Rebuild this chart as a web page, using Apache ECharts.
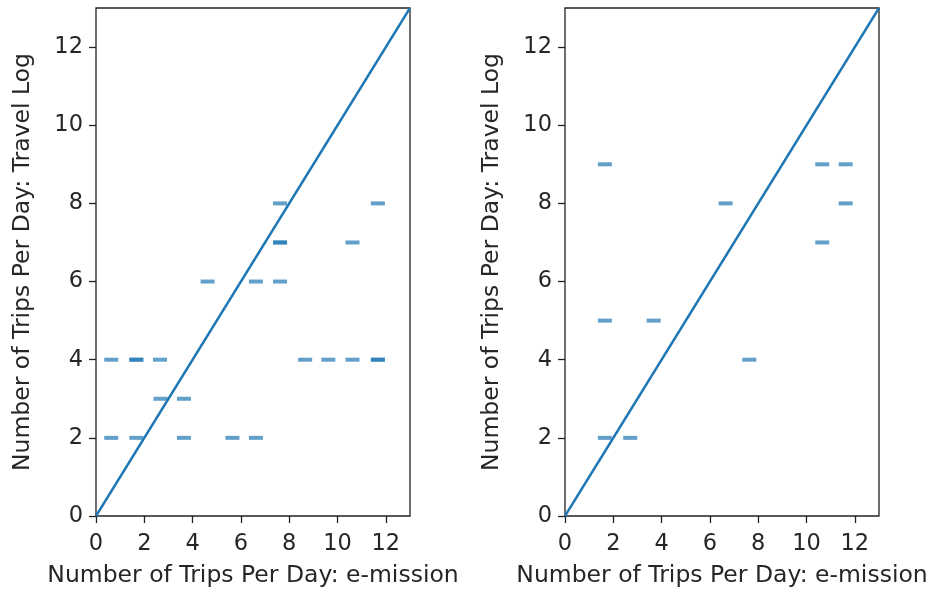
<!DOCTYPE html>
<html><head><meta charset="utf-8">
<script src="https://cdn.jsdelivr.net/npm/echarts@6/dist/echarts.min.js"></script>
<style>html,body{margin:0;padding:0;background:#fff}#c{width:930px;height:592px}</style>
</head><body><div id="c"></div>
<script>
const xLabel = "Number of Trips Per Day: e-mission";
const yLabel = "Number of Trips Per Day: Travel Log";
// Left panel points [e-mission, travel log]
const leftX = [7.62, 11.67, 7.62, 7.62, 10.62, 4.62, 6.62, 7.62, 0.63, 1.67, 1.67, 2.65, 8.66, 9.62, 10.62, 11.67, 11.67, 2.67, 3.64, 0.63, 1.67, 3.64, 5.65, 6.62];
const leftY = [8, 8, 7, 7, 7, 6, 6, 6, 4, 4, 4, 4, 4, 4, 4, 4, 4, 3, 3, 2, 2, 2, 2, 2];
// Right panel points
const rightX = [1.65, 10.65, 11.62, 6.65, 11.62, 10.65, 1.65, 3.67, 7.63, 1.65, 2.7];
const rightY = [9, 9, 9, 8, 8, 7, 5, 5, 4, 2, 2];
const lineX = [0, 13];
const lineY = [0, 13];

const blue = '#1f77b4';
const txt = '#262626';
const font = 'DejaVu Sans';
const fsName = 23.5;
const fsTick = 22.5;

function zip(a, b) { return a.map((v, i) => [v, b[i]]); }

function xAxis(idx) {
  return {
    gridIndex: idx, type: 'value', min: 0, max: 13, interval: 2,
    name: xLabel, nameLocation: 'middle', nameGap: 48,
    nameTextStyle: { color: txt, fontSize: fsName, fontFamily: font },
    axisLine: { show: false },
    axisTick: { show: true, length: 7, lineStyle: { color: '#222', width: 1.3 } },
    axisLabel: { color: txt, fontSize: fsTick, fontFamily: font, margin: 17, showMaxLabel: false },
    splitLine: { show: false }
  };
}
function yAxis(idx) {
  return {
    gridIndex: idx, type: 'value', min: 0, max: 13, interval: 2,
    name: yLabel, nameLocation: 'middle', nameGap: 61,
    nameTextStyle: { color: txt, fontSize: fsName, fontFamily: font },
    axisLine: { show: false },
    axisTick: { show: true, length: 7, lineStyle: { color: '#222', width: 1.3 } },
    axisLabel: { color: txt, fontSize: fsTick, fontFamily: font, margin: 13, showMaxLabel: false },
    splitLine: { show: false }
  };
}
function pts(idx, xs, ys) {
  return {
    type: 'scatter', xAxisIndex: idx, yAxisIndex: idx,
    data: zip(xs, ys), symbol: 'rect', symbolSize: [14, 4],
    itemStyle: { color: blue, opacity: 0.7 }, z: 3
  };
}
function diag(idx) {
  return {
    type: 'line', xAxisIndex: idx, yAxisIndex: idx,
    data: zip(lineX, lineY), symbol: 'none',
    lineStyle: { color: blue, width: 2.4 }, z: 2
  };
}

const chart = echarts.init(document.getElementById('c'), null, { renderer: 'canvas' });
chart.setOption({
  animation: false,
  backgroundColor: '#fff',
  grid: [
    { left: 96, right: 520, top: 8, bottom: 76, outerBoundsMode: 'none', containLabel: false, show: true, borderColor: '#222', borderWidth: 1.3, backgroundColor: 'transparent' },
    { left: 565, right: 51, top: 8, bottom: 76, outerBoundsMode: 'none', containLabel: false, show: true, borderColor: '#222', borderWidth: 1.3, backgroundColor: 'transparent' }
  ],
  xAxis: [xAxis(0), xAxis(1)],
  yAxis: [yAxis(0), yAxis(1)],
  series: [diag(0), pts(0, leftX, leftY), diag(1), pts(1, rightX, rightY)]
});
</script></body></html>
